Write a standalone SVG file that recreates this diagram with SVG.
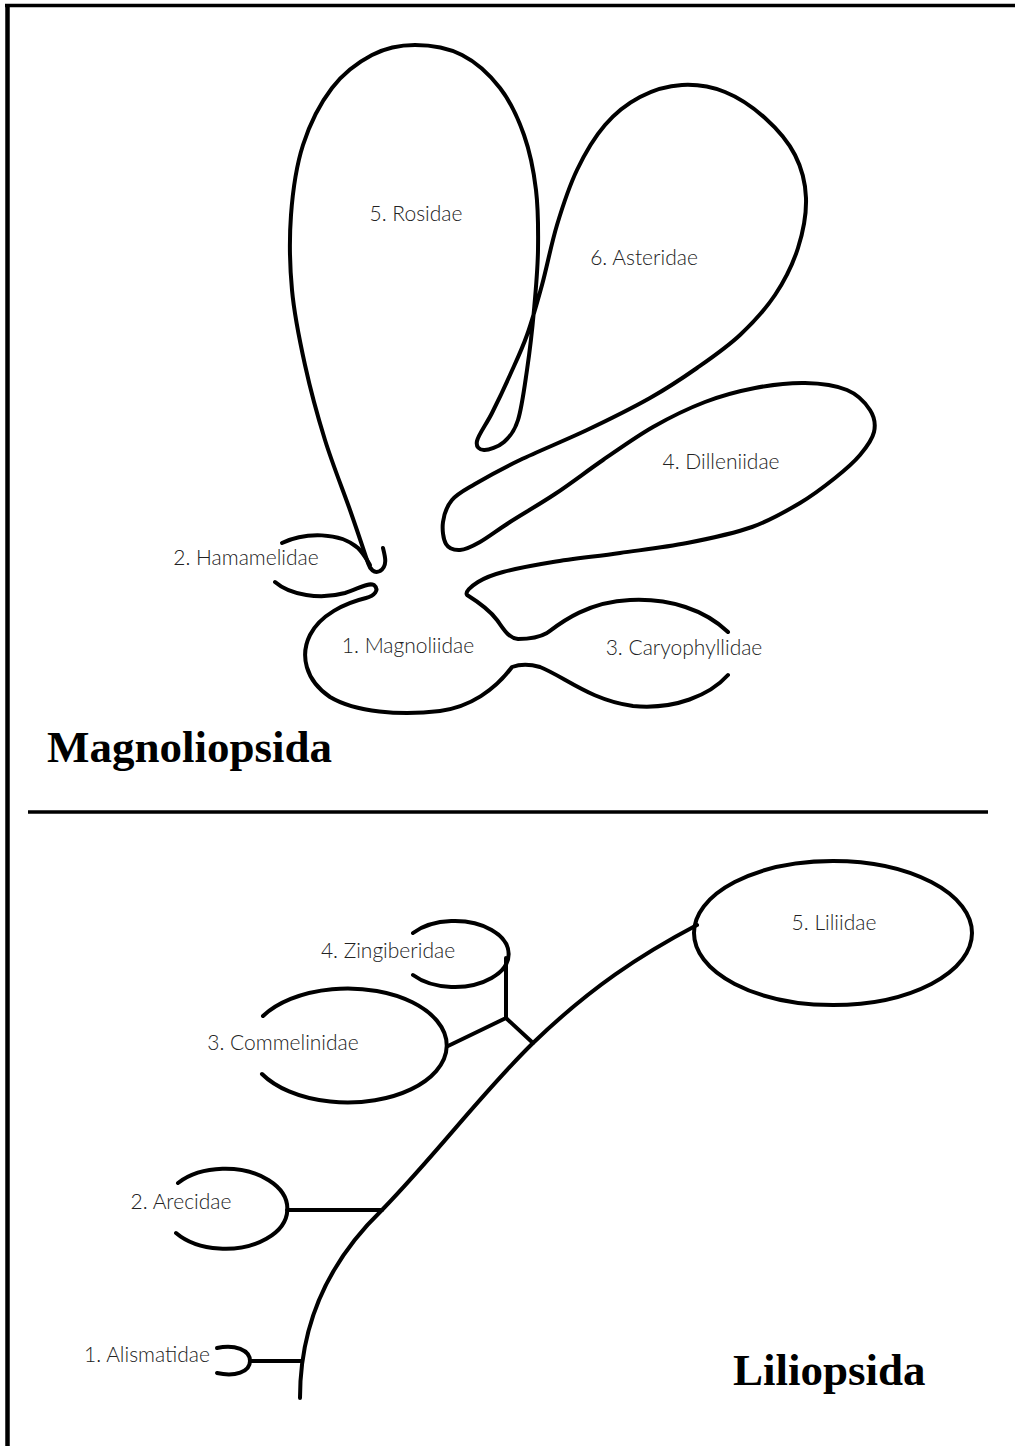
<svg xmlns="http://www.w3.org/2000/svg" width="1015" height="1446" viewBox="0 0 1015 1446">
<style>
.ln{fill:none;stroke:#000;stroke-width:4;stroke-linecap:round;stroke-linejoin:round}
.lb{font-family:Lato,"Open Sans","Liberation Sans",sans-serif;font-weight:300;font-size:21px;fill:#222;text-anchor:middle}
.tt{font-family:"Liberation Serif","Times New Roman",serif;font-weight:bold;font-size:45px;fill:#000}
</style>
<rect width="1015" height="1446" fill="#fff"/>
<g id="frame">
<line x1="5" y1="5.5" x2="1015" y2="5.5" stroke="#000" stroke-width="3.5"/>
<line x1="7.5" y1="4" x2="7.5" y2="1446" stroke="#000" stroke-width="4.5"/>
<line x1="28" y1="812" x2="988" y2="812" stroke="#000" stroke-width="3.5"/>
</g>
<g id="magnoliopsida">
<g id="connectors-m">
<path class="ln" d="M 282 543 C 305 532, 340 532, 358 548 C 364 554, 367 560, 370 565"/>
<path class="ln" d="M 383 548 C 385 556, 388 566, 380 571 C 374 574, 370 569, 368 563 S 357.2 530.5, 350 510 S 332.5 464.2, 325 440 S 310.5 390, 305 365 S 294.3 315, 292 290 S 289.2 239.2, 291 215 S 296.2 166.2, 303 145 S 320.5 103, 332 88 S 358.2 62.2, 372 55 S 400 45, 415 45 S 447.8 47.8, 462 55 S 489.7 74.7, 500 88 S 518 118, 524 135 S 533.7 170.8, 536 190 S 538.3 230, 538 250 S 535.8 290, 534 310 S 529.7 351.7, 527 370 S 521.8 408, 518 420 S 509.7 437, 504 442 S 488.5 450.2, 484 450 S 475.7 447.2, 477 441 S 486.5 424, 492 413 S 504.2 388, 510 375 S 521.7 350, 527 335 S 537 303.3, 542 285 S 551.2 244.2, 557 225 S 569 186.7, 577 170 S 594.5 137.2, 605 125 S 627.2 103.7, 640 97 S 667.8 85.8, 682 85 S 711.2 86.5, 725 92 S 753.3 107.5, 765 118 S 788.2 141.7, 795 155 S 805.5 182.5, 806 198 S 803.2 231.8, 798 248 S 784.7 280.5, 775 295 S 753 322.8, 740 335 S 712 357.5, 697 368 S 668.3 387.7, 650 398 S 608.7 419.7, 587 430 S 538.7 451, 520 460 S 486.3 477.3, 475 484 S 457.3 493.7, 452 500 S 444 514.7, 443 522 S 443.2 539.3, 446 544 S 454.3 550.3, 460 550 S 471.7 546.7, 480 542 S 497.5 530, 510 522 S 539.5 504.3, 555 494 S 586.7 471.2, 603 460 S 636 436.7, 653 427 S 688 408.5, 705 402 S 738.3 391.2, 755 388 S 789.7 382.7, 805 383 S 836.2 385.5, 847 390 S 865.5 403, 870 410 S 875.7 424.5, 874 432 S 866.5 447.3, 860 455 S 845 470, 835 478 S 813.8 494.8, 800 503 S 770.8 520.3, 752 527 S 709 538.7, 687 543 S 642.3 549.8, 620 553 S 572.5 558.8, 553 562 S 515.5 568.7, 503 572 S 484 578.3, 478 582 C 470 587, 465 592, 467 595 C 475 600, 488 608, 497 620 C 503 628, 508 638, 518 639 C 530 639, 540 637, 547 633 C 558 625, 585 602, 630 600 C 670 598, 705 610, 728 632"/>
<path class="ln" d="M 275 582 C 290 595, 320 600, 345 593 C 358 589, 368 582, 374 585 C 380 590, 374 596, 366 598 C 345 603, 320 615, 310 635 C 300 655, 305 680, 330 697 C 355 712, 400 716, 440 711 C 470 707, 495 690, 512 667 C 520 664, 530 664, 540 667 C 565 677, 590 700, 633 706 C 675 710, 710 695, 728 675"/>
</g>
<g id="node-rosidae"><text class="lb" x="416" y="221">5. Rosidae</text></g>
<g id="node-asteridae"><text class="lb" x="644" y="265">6. Asteridae</text></g>
<g id="node-dilleniidae"><text class="lb" x="721" y="469">4. Dilleniidae</text></g>
<g id="node-hamamelidae"><text class="lb" x="246" y="565">2. Hamamelidae</text></g>
<g id="node-magnoliidae"><text class="lb" x="408" y="653">1. Magnoliidae</text></g>
<g id="node-caryophyllidae"><text class="lb" x="684" y="655">3. Caryophyllidae</text></g>
<g id="title-magnoliopsida"><text class="tt" x="47" y="762">Magnoliopsida</text></g>
</g>
<g id="liliopsida">
<g id="connectors-l">
<path class="ln" d="M 300 1398 C 300 1330, 325 1265, 382 1210 C 440 1150, 480 1095, 533 1043 C 590 988, 640 955, 697 925"/>
<path class="ln" d="M 506 958 L 506 1018 M 506 1018 L 533 1043 M 506 1018 L 448 1046"/>
<path class="ln" d="M 287 1210 L 382 1210"/>
<path class="ln" d="M 250 1361 L 302 1361"/>
</g>
<g id="node-liliidae"><ellipse class="ln" cx="833" cy="933" rx="139" ry="72"/><text class="lb" x="834" y="930">5. Liliidae</text></g>
<g id="node-zingiberidae"><path class="ln" d="M 413 933 A 54 33 0 1 1 413 975"/><text class="lb" x="388" y="958">4. Zingiberidae</text></g>
<g id="node-commelinidae"><path class="ln" d="M 263 1016 A 99 57 0 1 1 262 1074"/><text class="lb" x="283" y="1050">3. Commelinidae</text></g>
<g id="node-arecidae"><path class="ln" d="M 178 1183 A 62 40 0 1 1 176 1233"/><text class="lb" x="181" y="1209">2. Arecidae</text></g>
<g id="node-alismatidae"><path class="ln" d="M 217 1348 C 235 1344, 250 1350, 250 1361 C 250 1372, 235 1377, 217 1373"/><text class="lb" x="147" y="1362">1. Alismatidae</text></g>
<g id="title-liliopsida"><text class="tt" x="733" y="1385">Liliopsida</text></g>
</g>
</svg>
